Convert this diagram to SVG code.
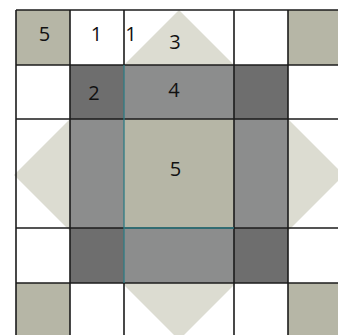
<svg xmlns="http://www.w3.org/2000/svg" width="338" height="335" viewBox="0 0 338 335">
<style>
.tan{fill:#b6b6a6}
.mid{fill:#8c8d8d}
.dark{fill:#6e6e6e}
.wht{fill:#ffffff}
.dia{fill:#dcdcd1}
.lbl{font-family:"Open Sans","DejaVu Sans",sans-serif;font-size:20px;fill:#111;text-anchor:middle}
.grid{stroke:#1c1c1c;stroke-width:1.6;fill:none}
.teal{stroke:#2f7c84;stroke-width:1.3;fill:none}
</style>
<rect width="338" height="335" fill="#ffffff"/>
<polygon id="diamond" class="dia" points="179,10 344,175 179,340 14,175"/>
<g id="r0c0"><rect class="tan" x="16" y="10" width="54" height="55"/><text class="lbl" x="44.5" y="41">5</text></g>
<g id="r0c1"><text class="lbl" x="96.5" y="41">1</text></g>
<g id="r0c2"><text class="lbl" x="131" y="41">1</text><text class="lbl" x="175" y="49">3</text></g>
<g id="r0c4"><rect class="tan" x="288" y="10" width="54" height="55"/></g>
<g id="r1c1"><rect class="dark" x="70" y="65" width="54" height="54"/><text class="lbl" x="94" y="100">2</text></g>
<g id="r1c2"><rect class="mid" x="124" y="65" width="110" height="54"/><text class="lbl" x="174" y="97">4</text></g>
<g id="r1c3"><rect class="dark" x="234" y="65" width="54" height="54"/></g>
<g id="r2c1"><rect class="mid" x="70" y="119" width="54" height="109"/></g>
<g id="r2c2"><rect class="tan" x="124" y="119" width="110" height="109"/><text class="lbl" x="175.5" y="176">5</text></g>
<g id="r2c3"><rect class="mid" x="234" y="119" width="54" height="109"/></g>
<g id="r3c1"><rect class="dark" x="70" y="228" width="54" height="55"/></g>
<g id="r3c2"><rect class="mid" x="124" y="228" width="110" height="55"/></g>
<g id="r3c3"><rect class="dark" x="234" y="228" width="54" height="55"/></g>
<g id="r4c0"><rect class="tan" x="16" y="283" width="54" height="55"/></g>
<g id="r4c4"><rect class="tan" x="288" y="283" width="54" height="55"/></g>
<g id="connectors">
<path class="grid" d="M16,10H338M16,65H338M16,119H338M16,228H338M16,283H338M16,10V335M70,10V335M234,10V335M288,10V335"/>
<path class="grid" stroke="#777" stroke-width="1.2" d="M124,10V65M124,283V335"/>
<path class="teal" d="M124,65V283M124,228H234"/>
</g>
</svg>
